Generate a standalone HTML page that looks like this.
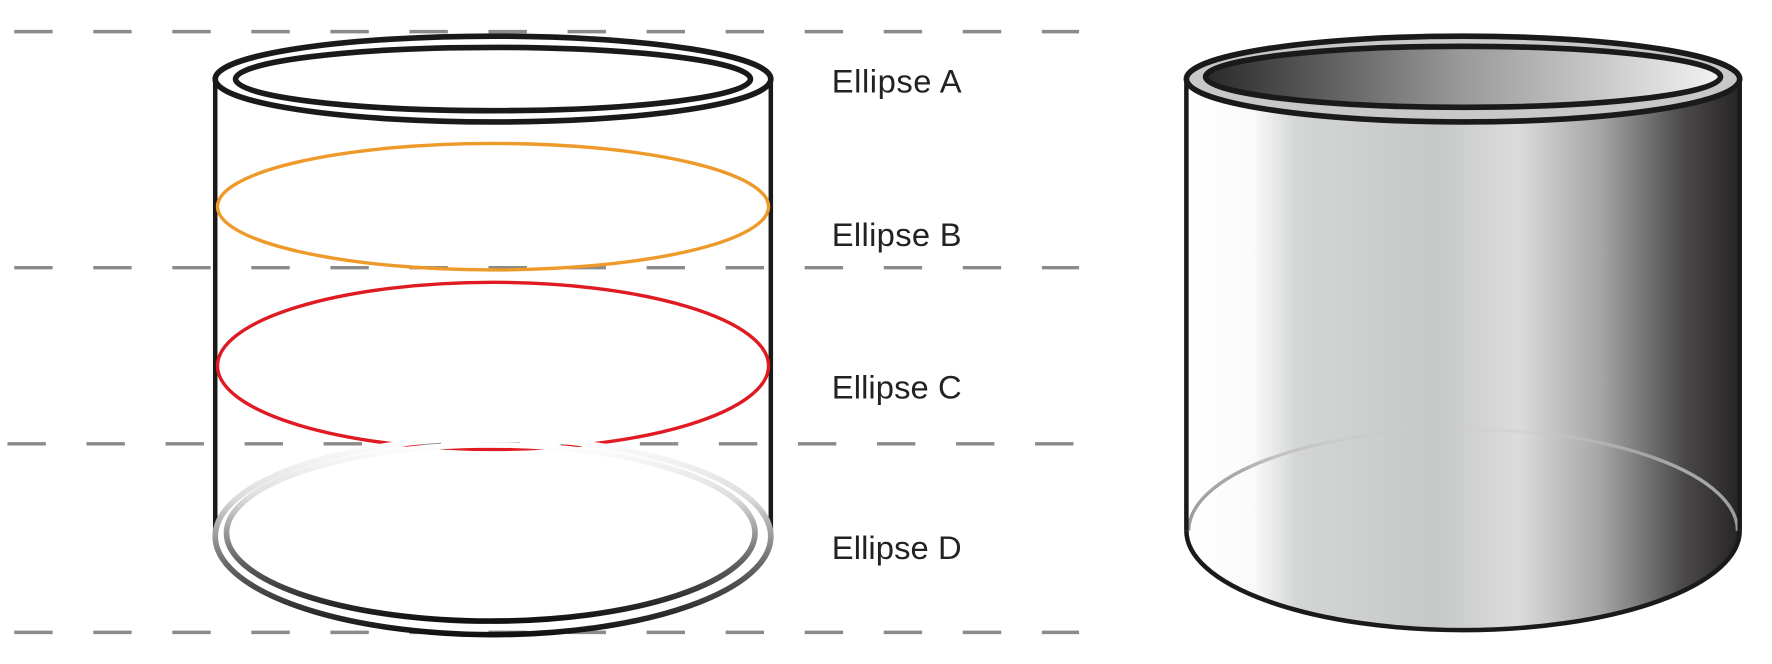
<!DOCTYPE html>
<html><head><meta charset="utf-8"><style>html,body{margin:0;padding:0;background:#fff;width:1772px;height:664px;overflow:hidden}</style></head>
<body>
<svg width="1772" height="664" viewBox="0 0 1568 588" xmlns="http://www.w3.org/2000/svg">
<defs>
<linearGradient id="dstroke" x1="0" y1="0" x2="0" y2="1">
<stop offset="0" stop-color="#fff"/><stop offset="0.3" stop-color="#ddd"/><stop offset="0.65" stop-color="#666"/><stop offset="1" stop-color="#111"/>
</linearGradient>
<linearGradient id="body" x1="1050" y1="0" x2="1540" y2="0" gradientUnits="userSpaceOnUse">
<stop offset="0" stop-color="#fff"/><stop offset="0.12" stop-color="#fafafa"/><stop offset="0.2" stop-color="#d4d6d6"/><stop offset="0.45" stop-color="#c6c8c8"/><stop offset="0.6" stop-color="#dcdcdc"/><stop offset="0.75" stop-color="#a5a5a5"/><stop offset="0.9" stop-color="#4a4848"/><stop offset="1" stop-color="#262424"/>
</linearGradient>
<linearGradient id="inner" x1="0" y1="0" x2="1" y2="0">
<stop offset="0" stop-color="#2a2a2a"/><stop offset="0.5" stop-color="#9a9a9a"/><stop offset="1" stop-color="#f2f2f2"/>
</linearGradient>
<linearGradient id="bstroke" x1="0" y1="0" x2="0" y2="1">
<stop offset="0" stop-color="#ccc" stop-opacity="0.3"/><stop offset="0.4" stop-color="#aaa"/><stop offset="1" stop-color="#999"/>
</linearGradient>
</defs>
<g stroke="#8a8a8a" stroke-width="3" stroke-dasharray="34 36">
<line x1="12" y1="28" x2="955" y2="28"/><line x1="12" y1="237" x2="955" y2="237"/>
<line x1="6" y1="393" x2="950" y2="393"/><line x1="12" y1="560" x2="955" y2="560"/>
</g>
<g fill="none">
<line x1="190" y1="70" x2="190" y2="477" stroke="#1a1a1a" stroke-width="4"/>
<line x1="682" y1="70" x2="682" y2="477" stroke="#1a1a1a" stroke-width="4"/>
<ellipse cx="436" cy="70" rx="246" ry="38" stroke="#1a1a1a" stroke-width="5"/>
<ellipse cx="436" cy="70" rx="228" ry="28" stroke="#1a1a1a" stroke-width="5"/>
<ellipse cx="436" cy="183" rx="244" ry="56" stroke="#ee9a2a" stroke-width="3"/>
<ellipse cx="436" cy="324" rx="244" ry="74" stroke="#df1a22" stroke-width="3"/>
<ellipse cx="436" cy="475" rx="246" ry="87" stroke="url(#dstroke)" stroke-width="5"/>
<ellipse cx="434" cy="472" rx="234" ry="78" stroke="url(#dstroke)" stroke-width="5"/>
</g>
<g font-family="Liberation Sans, sans-serif" font-size="29" fill="#222">
<text x="736" y="82" textLength="115">Ellipse A</text><text x="736" y="218" textLength="115">Ellipse B</text>
<text x="736" y="353" textLength="115">Ellipse C</text><text x="736" y="495" textLength="115">Ellipse D</text>
</g>
<path d="M1050 70 L1050 470 A245 88 0 0 0 1540 470 L1540 70 Z" fill="url(#body)"/>
<path d="M1052 470 A243 90 0 0 1 1538 470" fill="none" stroke="url(#bstroke)" stroke-width="3"/>
<path d="M1050 470 A245 88 0 0 0 1540 470" fill="none" stroke="#1a1a1a" stroke-width="4"/>
<line x1="1050" y1="70" x2="1050" y2="470" stroke="#1a1a1a" stroke-width="4"/>
<line x1="1540" y1="70" x2="1540" y2="470" stroke="#1a1a1a" stroke-width="4"/>
<ellipse cx="1295" cy="70" rx="245" ry="38" fill="#c8c8c8" stroke="#1a1a1a" stroke-width="5"/>
<ellipse cx="1295" cy="68" rx="228" ry="27" fill="url(#inner)" stroke="#1a1a1a" stroke-width="5"/>
</svg>
</body></html>
